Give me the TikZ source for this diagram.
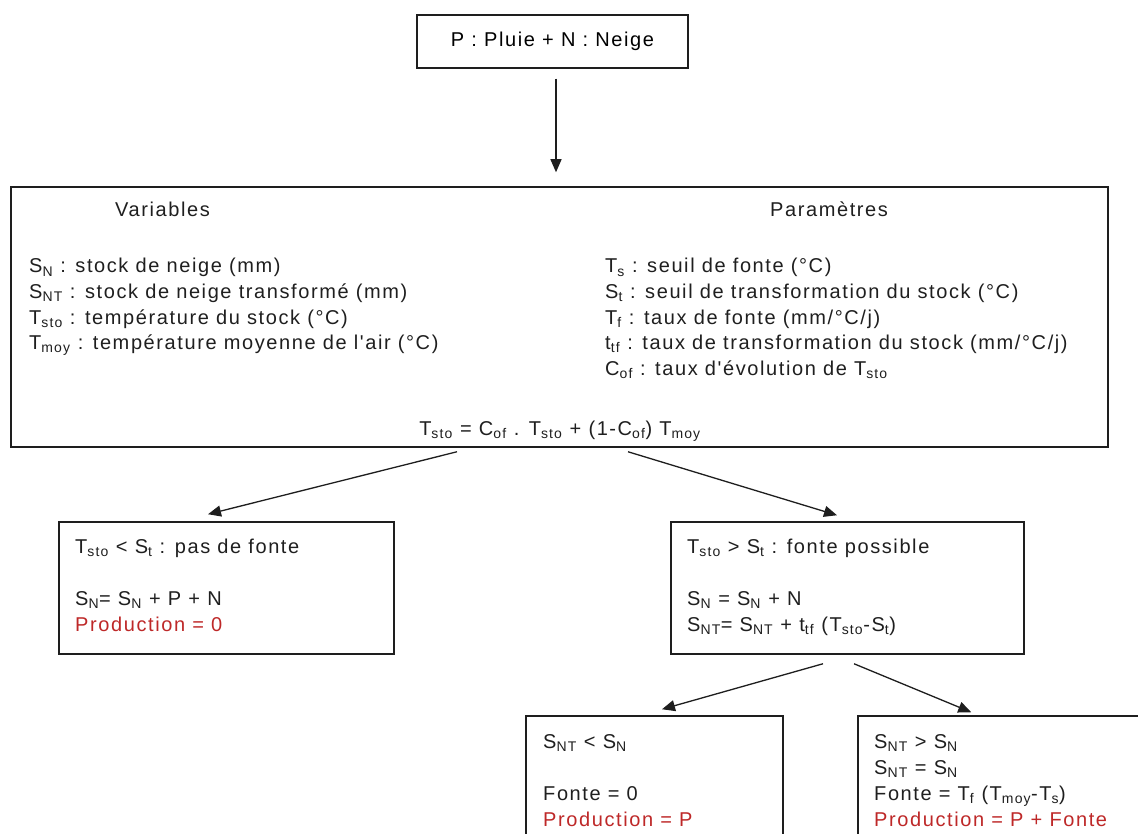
\documentclass[tikz,border=0pt]{standalone}
\usepackage{fontspec}
\setmainfont{Liberation Sans}
\newfontfamily\bodyfont[LetterSpace=8]{Liberation Sans}
\usetikzlibrary{arrows.meta}
\definecolor{redtxt}{RGB}{190,40,40}
\definecolor{linecol}{RGB}{30,30,30}
\newcommand\sbs[1]{\textsubscript{#1}}
\tikzset{
  box/.style={draw=linecol, line width=1.5pt, inner sep=0pt, font=\bodyfont\fontsize{20}{25}\selectfont},
  txt/.style={inner sep=0pt, anchor=base west, font=\bodyfont\fontsize{20}{25}\selectfont, text=black!88},
  redline/.style={text=redtxt},
  arr/.style={draw=linecol, line width=1.3pt, -{Triangle[length=13pt,width=11pt]}},
}
\begin{document}
\begin{tikzpicture}[x=1pt,y=-1pt]
\useasboundingbox (0,0) rectangle (1138,834);
\fill[white] (0,0) rectangle (1138,834);
\clip (0,0) rectangle (1138,834);

% boxes
\node[box, minimum width=271pt, minimum height=53pt] (top) at (552.5,41.5) {P : Pluie + N : Neige};
\node[box, minimum width=1097pt, minimum height=260pt] (big) at (559.5,317) {};
\node[box, minimum width=335pt, minimum height=132pt] (lbox) at (226.5,588) {};
\node[box, minimum width=353pt, minimum height=132pt] (rbox) at (847.5,588) {};
\node[box, minimum width=257pt, minimum height=184pt] (blbox) at (654.5,808) {};
\node[box, minimum width=342pt, minimum height=184pt] (brbox) at (1029,808) {};

% big box texts
\node[txt] (tv) at (115,217) {Variables};
\node[txt] (tp) at (770,217) {Paramètres};
\node[txt] (v1) at (29,273) {S\sbs{N} : stock de neige (mm)};
\node[txt] (v2) at (29,298.5) {S\sbs{NT} : stock de neige transformé (mm)};
\node[txt] (v3) at (29,324) {T\sbs{sto} : température du stock (°C)};
\node[txt] (v4) at (29,349.5) {T\sbs{moy} : température moyenne de l'air (°C)};
\node[txt] (p1) at (605,273) {T\sbs{s} : seuil de fonte (°C)};
\node[txt] (p2) at (605,298.5) {S\sbs{t} : seuil de transformation du stock (°C)};
\node[txt] (p3) at (605,324) {T\sbs{f} : taux de fonte (mm/°C/j)};
\node[txt] (p4) at (605,349.5) {t\sbs{tf} : taux de transformation du stock (mm/°C/j)};
\node[txt] (p5) at (605,375) {C\sbs{of} : taux d'évolution de T\sbs{sto}};
\node[txt, anchor=base] (eq) at (560,435) {T\sbs{sto} = C\sbs{of} . T\sbs{sto} + (1-C\sbs{of}) T\sbs{moy}};

% left middle box
\node[txt] (l1) at (75,553) {T\sbs{sto} < S\sbs{t} : pas de fonte};
\node[txt] (l2) at (75,605) {S\sbs{N}= S\sbs{N} + P + N};
\node[txt, redline] (l3) at (75,631) {Production = 0};

% right middle box
\node[txt] (r1) at (687,553) {T\sbs{sto} > S\sbs{t} : fonte possible};
\node[txt] (r2) at (687,605) {S\sbs{N} = S\sbs{N} + N};
\node[txt] (r3) at (687,631) {S\sbs{NT}= S\sbs{NT} + t\sbs{tf} (T\sbs{sto}-S\sbs{t})};

% bottom left box
\node[txt] (bl1) at (543,748) {S\sbs{NT} < S\sbs{N}};
\node[txt] (bl2) at (543,800) {Fonte = 0};
\node[txt, redline] (bl3) at (543,826) {Production = P};

% bottom right box
\node[txt] (br1) at (874,748) {S\sbs{NT} > S\sbs{N}};
\node[txt] (br2) at (874,774) {S\sbs{NT} = S\sbs{N}};
\node[txt] (br3) at (874,800) {Fonte = T\sbs{f} (T\sbs{moy}-T\sbs{s})};
\node[txt, redline] (br4) at (874,826) {Production = P + Fonte};

% connectors
\draw[arr] ([shift={(3.5,10)}]top.south) -- ([shift={(-3.5,-14)}]big.north);
\draw[arr] ([shift={(-102.5,4)}]big.south) -- ([shift={(-18.5,-7)}]lbox.north);
\draw[arr] ([shift={(68.5,4)}]big.south) -- ([shift={(-10.5,-6)}]rbox.north);
\draw[arr] ([shift={(-24.5,9)}]rbox.south) -- ([shift={(7.5,-6)}]blbox.north);
\draw[arr] ([shift={(6.5,9)}]rbox.south) -- ([shift={(114,-3)}]brbox.north west);
\end{tikzpicture}
\end{document}
